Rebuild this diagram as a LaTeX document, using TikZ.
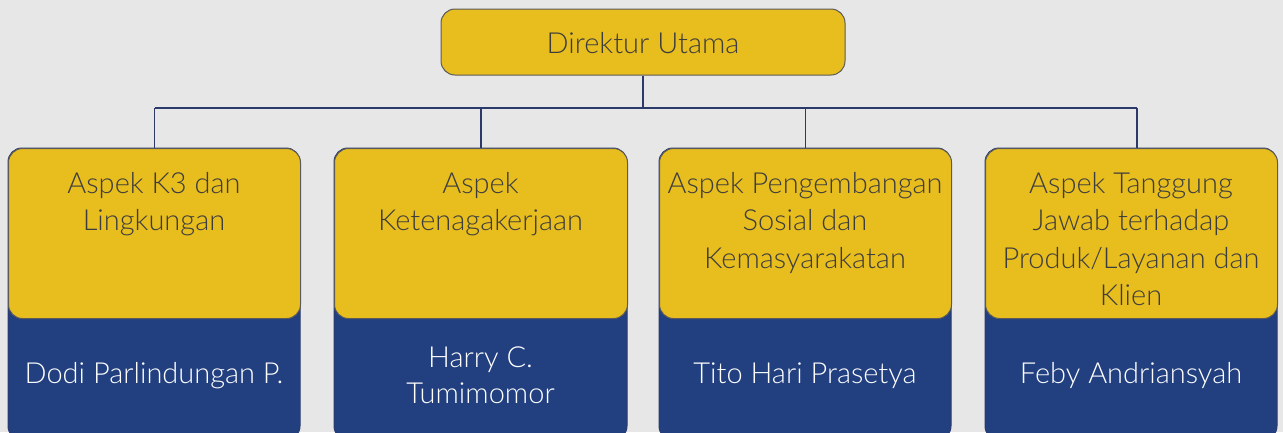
\documentclass[tikz,border=0pt]{standalone}
\usepackage{fontspec}
\setmainfont{Lato Light}
\definecolor{bg}{HTML}{E7E7E7}
\definecolor{gold}{HTML}{E8BD1E}
\definecolor{navy}{HTML}{224080}
\definecolor{edge}{HTML}{5A5A5A}
\definecolor{ink}{HTML}{3D3D3D}
\definecolor{wire}{HTML}{2B3A6B}
\tikzset{
  goldbox/.style={draw=edge, line width=1pt, fill=gold, rounded corners=14pt},
  navybox/.style={draw=wire, line width=1pt, fill=navy, rounded corners=14pt},
  darktext/.style={text=ink, font=\fontsize{29}{37.5}\selectfont, align=center, inner sep=0pt},
  lighttext/.style={text=white, font=\fontsize{29}{36}\selectfont, align=center, inner sep=0pt},
  conn/.style={draw=wire, line width=1.5pt}
}
\begin{document}
\begin{tikzpicture}[x=1pt,y=-1pt]
\fill[bg] (0,0) rectangle (1283,432);
\useasboundingbox (0,0) rectangle (1283,432);
\begin{scope}
\clip (0,0) rectangle (1283,432);
% top box
\node[goldbox, minimum width=404pt, minimum height=66pt, inner sep=0pt] (top) at (643,42) {};
\node[darktext, anchor=base] (toptxt) at (643,53) {Direktur Utama};
% lower boxes
\foreach \i/\l/\r in {1/8/300, 2/334/627, 3/659/951, 4/985/1277}{
  \path[navybox] (\l,148) rectangle (\r,440);
  \node[goldbox, minimum width={\r-\l}, minimum height=170pt, inner sep=0pt, anchor=north west] (y\i) at (\l,148) {};
}
\coordinate (bus) at (0,108);
\coordinate (d4) at (1137,148);
\draw[conn] (top.south) -- (top.south |- bus);
\draw[conn] (y1.north |- bus) -- (d4 |- bus);
\draw[conn] (y1.north |- bus) -- (y1.north);
\draw[conn] (y2.north |- bus) -- (y2.north);
\draw[conn] (y3.north |- bus) -- (y3.north);
\draw[conn] (d4 |- bus) -- (d4);
% texts
\node[darktext, anchor=north] (t1) at (154,172) {Aspek K3 dan\\Lingkungan};
\node[darktext, anchor=north] (t2) at (480.5,172) {Aspek\\Ketenagakerjaan};
\node[darktext, anchor=north] (t3) at (805,172) {Aspek Pengembangan\\Sosial dan\\Kemasyarakatan};
\node[darktext, anchor=north] (t4) at (1131,172) {Aspek Tanggung\\Jawab terhadap\\Produk/Layanan dan\\Klien};
\node[lighttext, anchor=base] (n1) at (154,383) {Dodi Parlindungan P.};
\node[lighttext, anchor=north] (n2) at (480.5,347) {Harry C.\\Tumimomor};
\node[lighttext, anchor=base] (n3) at (805,383) {Tito Hari Prasetya};
\node[lighttext, anchor=base] (n4) at (1131,383) {Feby Andriansyah};
\end{scope}
\end{tikzpicture}
\end{document}
